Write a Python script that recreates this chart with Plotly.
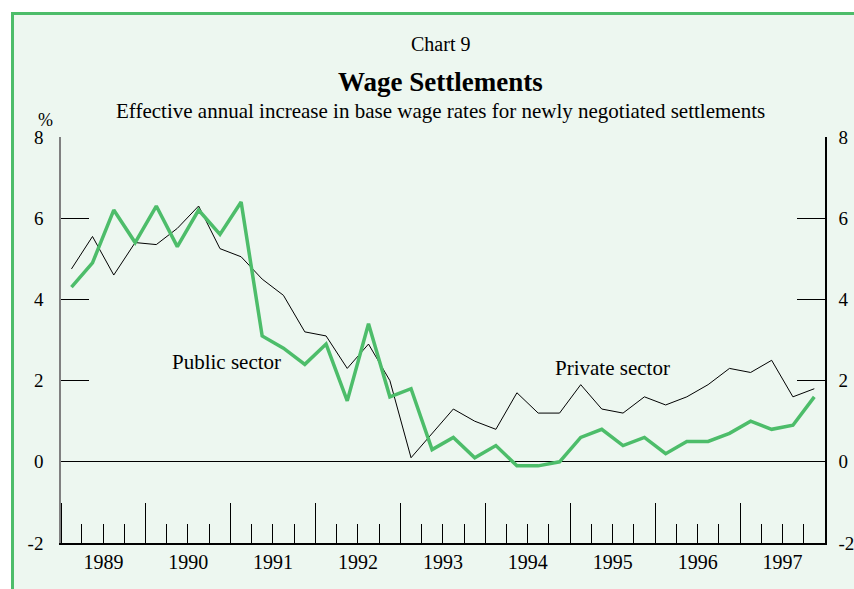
import pandas as pd
import plotly.graph_objects as go

# ---- data ----
quarters = [f"{y}Q{q}" for y in range(1989, 1998) for q in range(1, 5)]
public_sector = [4.3, 4.9, 6.2, 5.4, 6.3, 5.3, 6.2, 5.6,
                 6.4, 3.1, 2.8, 2.4, 2.9, 1.5, 3.4, 1.6,
                 1.8, 0.3, 0.6, 0.1, 0.4, -0.1, -0.1, 0.0,
                 0.6, 0.8, 0.4, 0.6, 0.2, 0.5, 0.5, 0.7,
                 1.0, 0.8, 0.9, 1.6]
private_sector = [4.75, 5.55, 4.6, 5.4, 5.35, 5.75, 6.3, 5.25,
                  5.05, 4.5, 4.1, 3.2, 3.1, 2.3, 2.9, 2.0,
                  0.1, 0.7, 1.3, 1.0, 0.8, 1.7, 1.2, 1.2,
                  1.9, 1.3, 1.2, 1.6, 1.4, 1.6, 1.9, 2.3,
                  2.2, 2.5, 1.6, 1.8]
y_ticks = [-2, 0, 2, 4, 6, 8]

# quarter mid-points as dates
def mid(q):
    p = pd.Period(q, freq="Q")
    s, e = p.start_time, p.end_time
    return s + (e - s) / 2

x = [mid(q) for q in quarters]

FONT = "Liberation Serif, Times New Roman, serif"
GREEN = "#4DBD6A"
BG = "#EDF7F0"

fig = go.Figure()
fig.add_trace(go.Scatter(x=x, y=private_sector, mode="lines",
                         line=dict(color="black", width=1), name="Private sector"))
fig.add_trace(go.Scatter(x=x, y=public_sector, mode="lines",
                         line=dict(color=GREEN, width=3.5), name="Public sector"))
# invisible trace for right axis
fig.add_trace(go.Scatter(x=[x[0]], y=[0], yaxis="y2", mode="markers",
                         marker=dict(opacity=0), showlegend=False, hoverinfo="skip"))

yax_common = dict(range=[-2, 8], tickvals=y_ticks, ticktext=[str(v) for v in y_ticks],
                  ticks="inside", ticklen=28, tickcolor="black", tickwidth=1,
                  showgrid=False, tickfont=dict(family=FONT, size=19, color="black"),
                  fixedrange=True, automargin=False)

fig.update_layout(
    width=854, height=589,
    margin=dict(l=61, r=29, t=137, b=46),
    paper_bgcolor="white",
    plot_bgcolor="rgba(0,0,0,0)",
    showlegend=False,
    font=dict(family=FONT, color="black"),
    xaxis=dict(
        type="date",
        range=["1989-01-01", "1998-01-01"],
        tick0="1989-01-01", dtick="M12", tickformat="%Y",
        ticklabelmode="period",
        ticks="inside", ticklen=40, tickcolor="black", tickwidth=1,
        minor=dict(dtick="M3", ticks="inside", ticklen=19, tickcolor="black", tickwidth=1, showgrid=False),
        showline=True, linecolor="black", linewidth=1.5,
        showgrid=False, zeroline=False, automargin=False,
        tickfont=dict(family=FONT, size=20, color="black"),
        ticklabelstandoff=0,
    ),
    yaxis=dict(**yax_common, showline=True, linecolor="#808080", linewidth=1.5,
               zeroline=True, zerolinecolor="black", zerolinewidth=1.2,
               ticklabelstandoff=12),
    yaxis2=dict(**yax_common, overlaying="y", side="right", showline=True,
                linecolor="black", linewidth=1.5, zeroline=False,
                ticklabelstandoff=8),
)

# frame (light green panel with green border; right/bottom edges beyond page)
fig.add_shape(type="rect", xref="paper", yref="paper",
              x0=(12.5 - 61) / 764, x1=(920 - 61) / 764,
              y0=(543 - 640) / 406, y1=(543 - 13.5) / 406,
              fillcolor=BG, line=dict(color=GREEN, width=3), layer="below")

def ann(text, xp, yp, size, bold=False):
    fig.add_annotation(text=f"<b>{text}</b>" if bold else text,
                       xref="paper", yref="paper", x=(xp - 61) / 764, y=(543 - yp) / 406,
                       xanchor="center", yanchor="middle",
                       showarrow=False, font=dict(family=FONT, size=size, color="black"))

ann("Chart 9", 440, 44, 20)
ann("Wage Settlements", 440, 82, 27, bold=True)
ann("Effective annual increase in base wage rates for newly negotiated settlements", 440, 111, 21)
ann("%", 45, 120, 18)
ann("Public sector", 226, 362, 21)
ann("Private sector", 612, 368, 21)

fig.write_html("out.html", config={"displayModeBar": False},
               post_script="document.body.style.margin='0';")
